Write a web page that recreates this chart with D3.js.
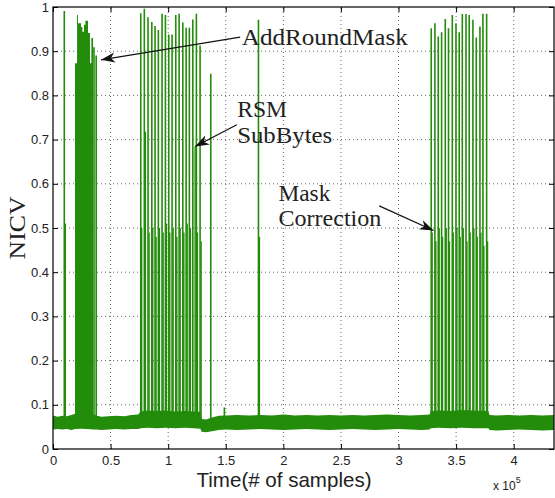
<!DOCTYPE html>
<html><head><meta charset="utf-8">
<script src="https://cdn.jsdelivr.net/npm/d3@7"></script>
<style>html,body{margin:0;padding:0;background:#fff;} svg{display:block;}</style>
</head><body><svg id="c" width="555" height="498"></svg>
<script>
// ---- data (x in units of 1e5 samples) ----
const xTicks = [0, 0.5, 1, 1.5, 2, 2.5, 3, 3.5, 4];
const xTickLabels = ["0", "0.5", "1", "1.5", "2", "2.5", "3", "3.5", "4"];
const yTicks = [0, 0.1, 0.2, 0.3, 0.4, 0.5, 0.6, 0.7, 0.8, 0.9, 1];
const yTickLabels = ["0", "0.1", "0.2", "0.3", "0.4", "0.5", "0.6", "0.7", "0.8", "0.9", "1"];

// noise floor envelope
const noiseX  = [0, 0.04, 0.08, 0.12, 0.16, 0.19, 0.24, 0.3, 0.35, 0.38, 0.42, 0.48, 0.55, 0.62, 0.68, 0.74, 0.76, 0.82, 0.9, 0.98, 1.06, 1.14, 1.22, 1.28, 1.29, 1.33, 1.38, 1.44, 1.5, 1.6, 1.7, 1.8, 1.9, 2.0, 2.1, 2.2, 2.3, 2.4, 2.5, 2.6, 2.7, 2.8, 2.9, 3.0, 3.1, 3.2, 3.27, 3.28, 3.35, 3.45, 3.55, 3.65, 3.78, 3.79, 3.85, 3.95, 4.05, 4.15, 4.25, 4.35];
const noiseHi = [0.076, 0.073, 0.075, 0.074, 0.077, 0.080, 0.081, 0.080, 0.079, 0.075, 0.073, 0.074, 0.075, 0.074, 0.077, 0.078, 0.085, 0.087, 0.086, 0.087, 0.085, 0.086, 0.085, 0.084, 0.068, 0.067, 0.071, 0.075, 0.076, 0.077, 0.076, 0.077, 0.076, 0.078, 0.076, 0.077, 0.076, 0.077, 0.076, 0.077, 0.076, 0.077, 0.078, 0.077, 0.076, 0.077, 0.078, 0.086, 0.087, 0.086, 0.088, 0.087, 0.086, 0.077, 0.076, 0.077, 0.076, 0.077, 0.076, 0.077];
const noiseLo = [0.044, 0.045, 0.044, 0.045, 0.043, 0.045, 0.046, 0.045, 0.044, 0.044, 0.043, 0.044, 0.045, 0.044, 0.045, 0.045, 0.047, 0.048, 0.047, 0.048, 0.047, 0.048, 0.047, 0.046, 0.039, 0.038, 0.040, 0.043, 0.044, 0.043, 0.044, 0.045, 0.044, 0.043, 0.044, 0.045, 0.044, 0.043, 0.044, 0.045, 0.044, 0.043, 0.044, 0.045, 0.044, 0.043, 0.044, 0.047, 0.048, 0.047, 0.048, 0.047, 0.047, 0.043, 0.042, 0.043, 0.044, 0.043, 0.042, 0.043];

// AddRoundMask dense burst: step profile of its top
const armX   = [0.191, 0.209, 0.217, 0.243, 0.255, 0.269, 0.281, 0.304, 0.321, 0.333, 0.348];
const armTop = [0.873, 0.982, 0.963, 0.955, 0.944, 0.960, 0.969, 0.941, 0.873, 0.930, 0.930];

// isolated high peaks
const peakX = [0.098, 0.356, 0.375,
  0.762, 0.793, 0.825, 0.858, 0.886, 0.915, 0.947, 0.976, 1.005, 1.034, 1.066, 1.095, 1.127, 1.156, 1.184, 1.214, 1.245, 1.277,
  1.370, 1.488, 1.784,
  3.284, 3.316, 3.345, 3.374, 3.406, 3.434, 3.467, 3.499, 3.527, 3.554, 3.586, 3.614, 3.646, 3.675, 3.707, 3.733, 3.765];
const peakY = [0.991, 0.909, 0.890,
  0.986, 0.996, 0.977, 0.966, 0.957, 0.948, 0.985, 0.982, 0.938, 0.938, 0.982, 0.985, 0.965, 0.953, 0.953, 0.972, 0.985, 0.913,
  0.849, 0.094, 0.971,
  0.952, 0.963, 0.933, 0.943, 0.973, 0.952, 0.982, 0.963, 0.943, 0.984, 0.984, 0.982, 0.971, 0.931, 0.956, 0.985, 0.985];

// lower companion peaks
const lowX = [0.107,
  0.770, 0.802, 0.834, 0.866, 0.895, 0.924, 0.956, 0.985, 1.014, 1.043, 1.075, 1.104, 1.136, 1.165, 1.193, 1.234, 1.254, 1.286,
  1.792,
  3.292, 3.324, 3.353, 3.382, 3.414, 3.442, 3.475, 3.507, 3.535, 3.562, 3.594, 3.622, 3.654, 3.683, 3.715, 3.741, 3.773];
const lowY = [0.51,
  0.50, 0.718, 0.49, 0.50, 0.48, 0.50, 0.49, 0.51, 0.49, 0.50, 0.48, 0.50, 0.49, 0.51, 0.50, 0.684, 0.49, 0.47,
  0.48,
  0.49, 0.47, 0.50, 0.48, 0.50, 0.47, 0.49, 0.50, 0.48, 0.50, 0.47, 0.49, 0.50, 0.48, 0.49, 0.46, 0.47];

// annotations (data coordinates)
const noteLines = [
  {lines: ["AddRoundMask"], x: 1.639, y: [0.9145], widths: [166], from: [1.625, 0.932], to: [0.417, 0.8805]},
  {lines: ["RSM", "SubBytes"], x: 1.599, y: [0.7516, 0.692], widths: [50, 95], from: [1.596, 0.7335], to: [1.234, 0.6844]},
  {lines: ["Mask", "Correction"], x: 1.957, y: [0.5622, 0.5034], widths: [52, 103], from: [2.832, 0.5502], to: [3.304, 0.4943]}
];

// ---- drawing ----
const svg = d3.select("#c");
const W = 555, H = 498;
const x = d3.scaleLinear().domain([0, 4.35]).range([53, 554]);
const y = d3.scaleLinear().domain([0, 1]).range([449, 7]);
const green = "#238c0b";
const baseV = 0.06;

svg.append("rect").attr("width", W).attr("height", H).attr("fill", "#fff");

// grid
const grid = svg.append("g").attr("stroke", "#444").attr("stroke-width", 0.8).attr("stroke-dasharray", "1,3");
grid.selectAll(".gx").data(xTicks.filter(d => d > 0)).join("line")
  .attr("x1", d => x(d)).attr("x2", d => x(d)).attr("y1", y(0)).attr("y2", y(1));
grid.selectAll(".gy").data(yTicks.filter(d => d > 0 && d < 1)).join("line")
  .attr("y1", d => y(d)).attr("y2", d => y(d)).attr("x1", x(0)).attr("x2", x(4.35));

// noise band
const noise = noiseX.map((d, i) => ({x: d, lo: noiseLo[i], hi: noiseHi[i]}));
svg.append("path").datum(noise)
  .attr("fill", green)
  .attr("d", d3.area().x(d => x(d.x)).y0(d => y(d.lo)).y1(d => y(d.hi)));

// AddRoundMask burst
const arm = armX.map((d, i) => ({x: d, top: armTop[i]}));
svg.append("path").datum(arm)
  .attr("fill", green)
  .attr("d", d3.area().curve(d3.curveStepAfter).x(d => x(d.x)).y0(y(baseV)).y1(d => y(d.top)));

// low companion peaks
svg.append("g").selectAll("line").data(lowX.map((d, i) => ({x: d, v: lowY[i]}))).join("line")
  .attr("x1", d => x(d.x)).attr("x2", d => x(d.x))
  .attr("y1", y(baseV)).attr("y2", d => y(d.v))
  .attr("stroke", green).attr("stroke-width", 1.4);

// high peaks
svg.append("g").selectAll("line").data(peakX.map((d, i) => ({x: d, v: peakY[i]}))).join("line")
  .attr("x1", d => x(d.x)).attr("x2", d => x(d.x))
  .attr("y1", y(baseV)).attr("y2", d => y(d.v))
  .attr("stroke", green).attr("stroke-width", 1.6);

// axes
const fontSans = "'Liberation Sans', Arial, Helvetica, sans-serif";
const fontSerif = "'Liberation Serif', 'Times New Roman', serif";

const ax = svg.append("g").attr("transform", `translate(0,${y(0)})`)
  .call(d3.axisBottom(x).tickValues(xTicks).tickSizeInner(-5).tickSizeOuter(0).tickPadding(7)
    .tickFormat((d, i) => xTickLabels[i]));
const ay = svg.append("g").attr("transform", `translate(${x(0)},0)`)
  .call(d3.axisLeft(y).tickValues(yTicks).tickSizeInner(-5).tickSizeOuter(0).tickPadding(4)
    .tickFormat((d, i) => yTickLabels[i]));
const at = svg.append("g").attr("transform", `translate(0,${y(1)})`)
  .call(d3.axisTop(x).tickValues(xTicks).tickSizeInner(-5).tickSizeOuter(0).tickFormat(""));
const ar = svg.append("g").attr("transform", `translate(${x(4.35)},0)`)
  .call(d3.axisRight(y).tickValues(yTicks).tickSizeInner(-5).tickSizeOuter(0).tickFormat(""));
[ax, ay, at, ar].forEach(g => {
  g.select(".domain").remove();
  g.selectAll(".tick line").attr("stroke", "#000").attr("stroke-width", 1);
  g.selectAll(".tick text").attr("fill", "#222").attr("font-family", fontSans).attr("font-size", 13);
});

// frame
svg.append("rect").attr("x", x(0)).attr("y", y(1)).attr("width", x(4.35) - x(0)).attr("height", y(0) - y(1))
  .attr("fill", "none").attr("stroke", "#000").attr("stroke-width", 1.2);

// axis labels
svg.append("text").attr("x", 284).attr("y", 487).attr("text-anchor", "middle")
  .attr("font-family", fontSans).attr("font-size", 21).attr("fill", "#222")
  .attr("textLength", 175).attr("lengthAdjust", "spacingAndGlyphs")
  .text("Time(# of samples)");
const ex = svg.append("text").attr("x", 493).attr("y", 490)
  .attr("font-family", fontSans).attr("font-size", 12).attr("fill", "#222");
ex.append("tspan").text("x 10");
ex.append("tspan").attr("dy", -7).attr("font-size", 9).text("5");

svg.append("text").attr("transform", "translate(25,228) rotate(-90)").attr("text-anchor", "middle")
  .attr("font-family", fontSerif).attr("font-size", 23).attr("fill", "#222")
  .attr("textLength", 63).attr("lengthAdjust", "spacingAndGlyphs")
  .text("NICV");

// annotations
const defs = svg.append("defs");
defs.append("marker").attr("id", "ah").attr("markerUnits", "userSpaceOnUse")
  .attr("markerWidth", 16).attr("markerHeight", 12).attr("refX", 14).attr("refY", 5)
  .attr("orient", "auto")
  .append("path").attr("d", "M0,0 L14,5 L0,10 L4,5 Z").attr("fill", "#111");

noteLines.forEach(n => {
  n.lines.forEach((t, i) => {
    svg.append("text").attr("x", x(n.x)).attr("y", y(n.y[i]))
      .attr("font-family", fontSerif).attr("font-size", 23).attr("fill", "#222")
      .attr("textLength", n.widths[i]).attr("lengthAdjust", "spacingAndGlyphs")
      .text(t);
  });
  svg.append("line")
    .attr("x1", x(n.from[0])).attr("y1", y(n.from[1]))
    .attr("x2", x(n.to[0])).attr("y2", y(n.to[1]))
    .attr("stroke", "#111").attr("stroke-width", 1.3)
    .attr("marker-end", "url(#ah)");
});
</script></body></html>
